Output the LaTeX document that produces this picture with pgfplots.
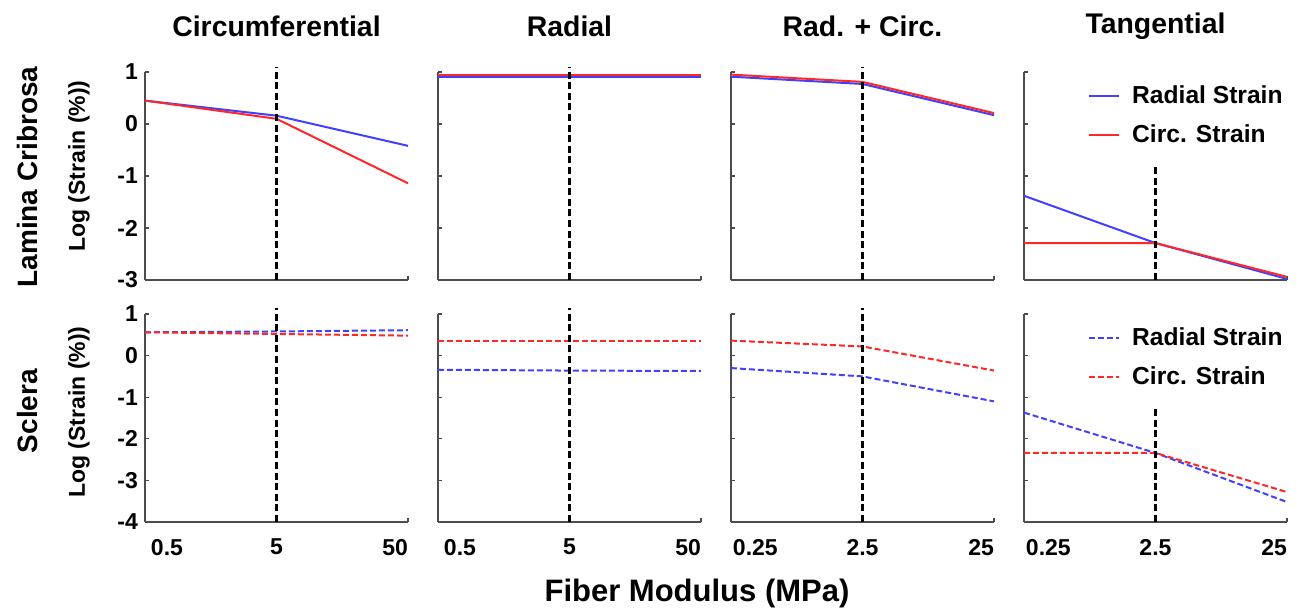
\documentclass[border=0pt]{standalone}
\usepackage{pgfplots}
\pgfplotsset{compat=1.18}
\usepgfplotslibrary{groupplots}
\usetikzlibrary{calc}
\usepackage{fontspec}
\setmainfont{Liberation Sans}
\definecolor{sblue}{RGB}{64,64,255}
\definecolor{sred}{RGB}{255,40,40}

\pgfplotsset{
 panel/.style={width=131.5pt,height=104pt,scale only axis,
   xmin=0,xmax=2,xtick={0,1,2},
   axis lines=left,axis line style={-,draw=black!70,line width=0.9pt},
   tick style={draw=black!70,line width=0.6pt},major tick length=2pt,tick align=inside,
   tick label style={font=\bfseries\fontsize{11.5}{13}\selectfont},
   xticklabel style={yshift=-5pt},
   xticklabels={},yticklabels={},
   clip=false,
   title style={font=\bfseries\fontsize{14.2}{16}\selectfont,at={(0.5,1)},anchor=center,yshift=17pt},
   legend style={draw=none,fill=none,at={(1,0.975)},anchor=north east,xshift=3pt,
     font=\bfseries\fontsize{12.3}{14}\selectfont,row sep=5pt},
   legend cell align=left,
   legend image code/.code={\draw[##1] (0pt,0pt) -- (15pt,0pt); \path (19pt,0pt);},
 },
 toprow/.style={panel,ymin=-3,ymax=1,ytick={-3,...,1}},
 botrow/.style={panel,ymin=-4,ymax=1,ytick={-4,...,1}},
 rs/.style={sblue,line width=1pt},
 cs/.style={sred,line width=1pt},
 rd/.style={sblue,line width=1pt,dash pattern=on 3pt off 1.5pt},
 cd/.style={sred,line width=1pt,dash pattern=on 3pt off 1.5pt},
 ref/.style={black,line width=1.4pt,dash pattern=on 3.5pt off 1.8pt,forget plot},
}

\begin{document}
\begin{tikzpicture}
\begin{groupplot}[group style={group size=4 by 2,horizontal sep=15pt,vertical sep=17pt}]
% row 1: lamina cribrosa
\nextgroupplot[toprow,title={Circumferential},yticklabels={-3,-2,-1,0,1}]
\addplot[rs] coordinates {(0,0.45)(1,0.16)(2,-0.42)};
\addplot[cs] coordinates {(0,0.45)(1,0.10)(2,-1.14)};
\addplot[ref] coordinates {(1,-3)(1,1.1)};
\nextgroupplot[toprow,title={Radial}]
\addplot[rs] coordinates {(0,0.90)(1,0.90)(2,0.90)};
\addplot[cs] coordinates {(0,0.94)(1,0.94)(2,0.94)};
\addplot[ref] coordinates {(1,-3)(1,1.1)};
\nextgroupplot[toprow,title={Rad. + Circ.}]
\addplot[rs] coordinates {(0,0.91)(1,0.77)(2,0.17)};
\addplot[cs] coordinates {(0,0.95)(1,0.81)(2,0.21)};
\addplot[ref] coordinates {(1,-3)(1,1.1)};
\nextgroupplot[toprow,title={Tangential}]
\addplot[rs] coordinates {(0,-1.38)(1,-2.29)(2,-2.98)};
\addlegendentry{Radial Strain}
\addplot[cs] coordinates {(0,-2.29)(1,-2.29)(2,-2.94)};
\addlegendentry{Circ. Strain}
\addplot[ref] coordinates {(1,-3)(1,-0.76)};
% row 2: sclera
\nextgroupplot[botrow,yticklabels={-4,-3,-2,-1,0,1},
  xticklabels={\makebox[0pt][l]{\hspace{3pt}0.5},5,\makebox[0pt][r]{50}}]
\addplot[rd] coordinates {(0,0.56)(1,0.58)(2,0.61)};
\addplot[cd] coordinates {(0,0.56)(1,0.52)(2,0.48)};
\addplot[ref] coordinates {(1,-4)(1,1.15)};
\nextgroupplot[botrow,xticklabels={\makebox[0pt][l]{\hspace{3pt}0.5},5,\makebox[0pt][r]{50}}]
\addplot[rd] coordinates {(0,-0.34)(1,-0.36)(2,-0.37)};
\addplot[cd] coordinates {(0,0.35)(1,0.35)(2,0.35)};
\addplot[ref] coordinates {(1,-4)(1,1.15)};
\nextgroupplot[botrow,xticklabels={\makebox[0pt][l]{\hspace{1pt}0.25},2.5,\makebox[0pt][r]{25}}]
\addplot[rd] coordinates {(0,-0.30)(1,-0.50)(2,-1.10)};
\addplot[cd] coordinates {(0,0.36)(1,0.22)(2,-0.36)};
\addplot[ref] coordinates {(1,-4)(1,1.15)};
\nextgroupplot[botrow,xticklabels={\makebox[0pt][l]{\hspace{1pt}0.25},2.5,\makebox[0pt][r]{25}}]
\addplot[rd] coordinates {(0,-1.37)(1,-2.34)(2,-3.52)};
\addlegendentry{Radial Strain}
\addplot[cd] coordinates {(0,-2.34)(1,-2.34)(2,-3.28)};
\addlegendentry{Circ. Strain}
\addplot[ref] coordinates {(1,-4)(1,-1.29)};
\end{groupplot}
\node[rotate=90,font=\bfseries\fontsize{14}{16}\selectfont] at ($(group c1r1.north west)+(-59pt,-52.5pt)$) {Lamina Cribrosa};
\node[rotate=90,font=\bfseries\fontsize{14}{16}\selectfont] at ($(group c1r2.north west)+(-59pt,-48.5pt)$) {Sclera};
\node[rotate=90,font=\bfseries\fontsize{11.5}{13}\selectfont] at ($(group c1r1.north west)+(-33pt,-47pt)$) {Log (Strain (\%))};
\node[rotate=90,font=\bfseries\fontsize{11.5}{13}\selectfont] at ($(group c1r2.north west)+(-33pt,-49pt)$) {Log (Strain (\%))};
\node[font=\bfseries\fontsize{15.5}{18}\selectfont] at ($(group c1r1.north west)+(276pt,-260.5pt)$) {Fiber Modulus (MPa)};
\pgfresetboundingbox
\path ($(group c1r1.north west)+(-72.5pt,36pt)$) rectangle ($(group c1r1.north west)+(581.5pt,-272pt)$);
\end{tikzpicture}
\end{document}
